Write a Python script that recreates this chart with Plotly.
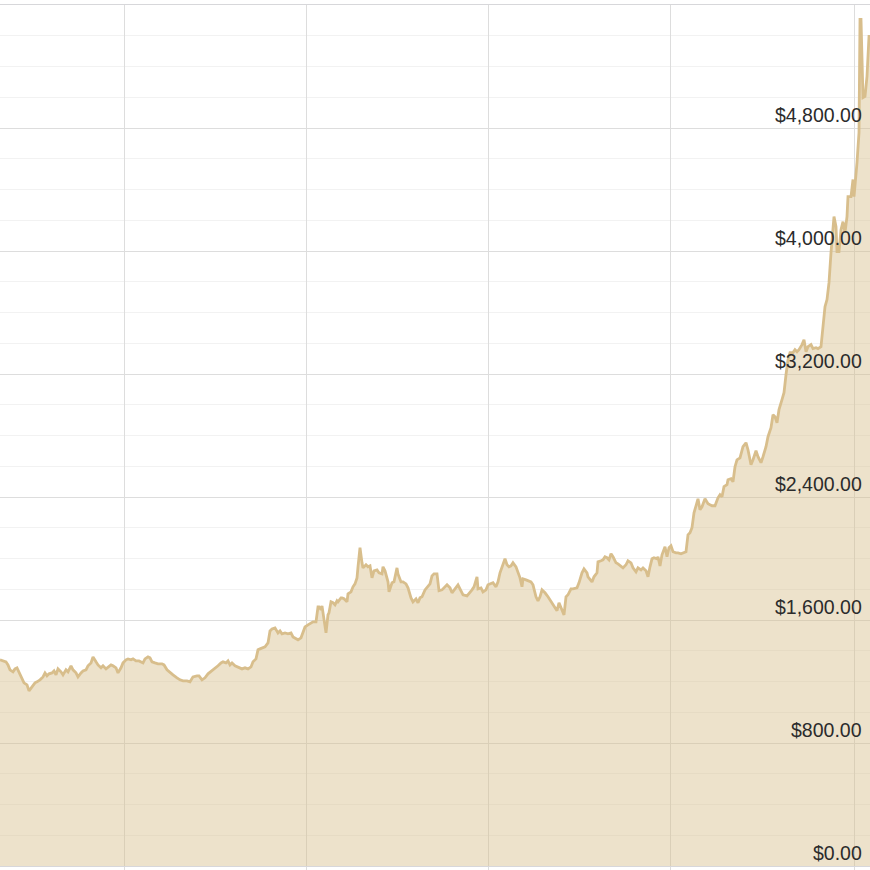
import plotly.graph_objects as go

# time position (arbitrary time steps along the x axis)
t = [0, 3, 6, 8, 10, 13, 15, 17, 19, 22, 24, 27, 29, 32, 35, 37, 40, 43, 45, 47, 49, 52, 54, 56, 58, 61, 63, 66, 68, 71,
     73, 76, 78, 81, 83, 86, 88, 91, 93, 96, 98, 101, 103, 106, 108, 111, 113, 116, 118, 121, 123, 126, 128, 131, 133,
     136, 139, 143, 145,
     148, 150, 152, 155, 158, 162, 164, 167, 170, 173, 177, 180, 183, 187, 190, 193, 197, 199, 202, 205, 208, 212, 215,
     218, 221, 223, 226, 228, 230, 232, 235, 238, 242, 245, 248, 251, 253, 256, 258, 260, 262, 265, 268, 270, 272, 275,
     278, 280, 282, 285, 288, 291, 293, 296, 298, 301,
     303, 305, 308, 312, 313, 316, 318, 319, 321, 322, 324, 326, 328, 329, 331, 333, 335, 337, 338, 341, 342, 344, 347,
     348, 351, 353, 355, 357, 358, 360, 362, 363, 366, 368, 370, 372, 374, 377, 379, 382, 383, 385, 388, 389, 392, 394,
     397, 398, 401, 403, 406, 408, 411, 413, 416, 418, 420, 422, 425, 428, 430, 432, 434, 437, 439, 442, 444,
     447, 450, 452, 455, 458, 461, 463, 467, 469, 472, 474, 477, 478, 481, 483, 486, 488, 491, 493, 496, 498, 500, 502,
     505, 507, 509, 511, 513, 516, 518, 520, 522, 523, 526, 528, 531, 533, 536, 538, 540, 542, 545, 548, 550, 552, 555,
     557, 559, 562, 564, 566, 568, 571, 573, 577, 579, 582, 584, 587, 588, 592, 594, 597, 598, 601, 603,
     605, 607, 609, 611, 613, 616, 618, 621, 623, 626, 628, 631, 633, 636, 638, 641, 643, 646, 648, 650, 652, 654, 657,
     658, 660, 662, 665, 667, 669, 671, 673, 676, 678, 681, 683, 686, 688, 690, 692, 694, 696, 698, 700, 702, 705, 708,
     710, 712, 715, 718, 720, 722, 724, 727, 728, 731, 733,
     735, 737, 740, 743, 746, 748, 751, 753, 756, 758, 761, 763, 766, 768, 771, 773, 775, 777, 779, 782, 784, 786, 788,
     790, 793, 795, 797, 799, 802, 804, 806, 808, 811, 813, 816, 818, 821, 823, 825, 827, 829, 831, 833, 834, 836, 837,
     839, 841, 843, 845, 847, 848, 851, 853, 854, 856, 857, 859, 860, 861, 863, 865, 867, 869, 870]

# price in US dollars
price = [1341, 1334, 1328, 1308, 1276, 1263, 1282, 1289, 1263, 1224, 1191, 1178, 1139, 1165, 1191, 1198, 1211, 1230,
         1256, 1237, 1250, 1256, 1269, 1243, 1282, 1263, 1243, 1276, 1263, 1302,
         1276, 1256, 1230, 1256, 1269, 1276, 1302, 1321, 1360, 1328, 1308, 1289, 1302, 1282, 1295, 1308, 1302, 1289,
         1256, 1289, 1321, 1341, 1347, 1341, 1347, 1334, 1334, 1321, 1347,
         1360, 1354, 1328, 1321, 1315, 1315, 1308, 1276, 1256, 1243, 1224, 1211, 1204, 1204, 1198, 1230, 1237, 1237,
         1211, 1224, 1250, 1269, 1289, 1302, 1321, 1328, 1321, 1334, 1308, 1321, 1302, 1295, 1282, 1289, 1282, 1295,
         1328, 1347, 1406, 1412, 1419, 1425, 1451, 1529, 1542, 1549, 1516, 1529, 1510, 1516, 1510, 1516, 1490, 1477,
         1471, 1484,
         1523, 1555, 1568, 1581, 1588, 1588, 1686, 1686, 1666, 1692, 1601, 1516, 1634, 1647, 1718, 1712, 1699, 1725,
         1718, 1744, 1744, 1738, 1718, 1770, 1783, 1816, 1835, 1874, 1946, 2070, 1972, 1939, 1959, 1946, 1952, 1874,
         1920, 1926, 1907, 1900, 1946, 1920, 1848, 1783, 1842, 1848, 1939, 1900, 1848, 1848, 1835, 1809, 1744, 1718,
         1738, 1712, 1744, 1751, 1796, 1822, 1835, 1887, 1900, 1900, 1790, 1796, 1809,
         1829, 1809, 1777, 1803, 1829, 1790, 1764, 1757, 1770, 1796, 1816, 1881, 1803, 1809, 1783, 1796, 1829, 1835,
         1842, 1816, 1848, 1907, 1939, 1998, 1959, 1946, 1952, 1972, 1946, 1907, 1874, 1816, 1868, 1861, 1855, 1848,
         1829, 1751, 1725, 1751, 1796, 1777, 1751, 1731, 1712, 1686, 1660, 1712, 1666, 1633, 1751, 1764, 1803, 1803,
         1809, 1842, 1907, 1933, 1907, 1881, 1848, 1881, 1907, 1978, 1985, 1991,
         2011, 2005, 1991, 2031, 2011, 1972, 1965, 1952, 1939, 1959, 1985, 1972, 1939, 1913, 1939, 1926, 1939, 1920,
         1881, 1946, 1998, 2005, 1998, 2011, 1952, 2024, 2076, 2011, 2070, 2083, 2044, 2037, 2037, 2031, 2037, 2044,
         2154, 2167, 2200, 2297, 2343, 2388, 2317, 2336, 2388, 2356, 2349, 2343, 2343, 2395, 2415, 2402, 2467, 2480,
         2512, 2519, 2499,
         2597, 2642, 2655, 2727, 2753, 2707, 2610, 2642, 2701, 2662, 2623, 2662, 2727, 2792, 2851, 2935, 2922, 2883,
         2968, 3033, 3078, 3195, 3293, 3339, 3339, 3358, 3345, 3358, 3391, 3423, 3345, 3378, 3391, 3365, 3371, 3365,
         3378, 3508, 3638, 3684, 3794, 3989, 4120, 4224, 4159, 3996, 3996, 4139, 4191, 4120, 4224, 4354, 4354, 4465,
         4354, 4497, 4575, 4770, 5506, 5506, 4998, 5005, 5135, 5395, 5395]

# axis ticks
price_ticks = [0, 800, 1600, 2400, 3200, 4000, 4800]
price_labels = ["$0.00", "$800.00", "$1,600.00", "$2,400.00", "$3,200.00", "$4,000.00", "$4,800.00"]
time_grid = [124, 306, 488, 670, 854]

LINE = "rgb(216,190,140)"
FILL = "rgba(216,190,140,0.45)"
MAJOR = "rgb(221,221,221)"
MINOR = "rgb(242,242,242)"

fig = go.Figure()
fig.add_trace(go.Scatter(
    x=t, y=price, mode="lines", fill="tozeroy",
    line=dict(color=LINE, width=2.8), fillcolor=FILL,
    hoverinfo="skip", showlegend=False,
))

fig.update_layout(
    width=870, height=870,
    margin=dict(l=0, r=0, t=5, b=4),
    paper_bgcolor="white", plot_bgcolor="white",
    font=dict(family="Liberation Sans, Arial, Helvetica, sans-serif", size=17, color="#333333"),
)
fig.update_xaxes(
    range=[0, 870], tickvals=time_grid, showticklabels=False,
    showgrid=True, gridcolor=MAJOR, gridwidth=1,
    ticks="outside", ticklen=4, tickcolor=MAJOR,
    showline=True, mirror=True, linecolor="rgb(215,215,218)", linewidth=1,
    zeroline=False,
)
fig.update_yaxes(
    range=[0, 5600], tickvals=price_ticks, showticklabels=False, ticks="",
    showgrid=True, gridcolor=MAJOR, gridwidth=1,
    minor=dict(dtick=200, showgrid=True, gridcolor=MINOR, gridwidth=1),
    zeroline=False, showline=False,
)

for v, lab in zip(price_ticks, price_labels):
    fig.add_annotation(
        x=1, xref="paper", y=v, yref="y", text=lab, showarrow=False,
        xanchor="right", yanchor="bottom", xshift=-6, yshift=0,
        font=dict(family="Liberation Sans, Arial, sans-serif", size=19.5, color="#2b2b2b"),
    )

fig.write_html("out.html", config={"displayModeBar": False},
               post_script="document.body.style.margin='0';document.body.style.overflow='hidden';")
